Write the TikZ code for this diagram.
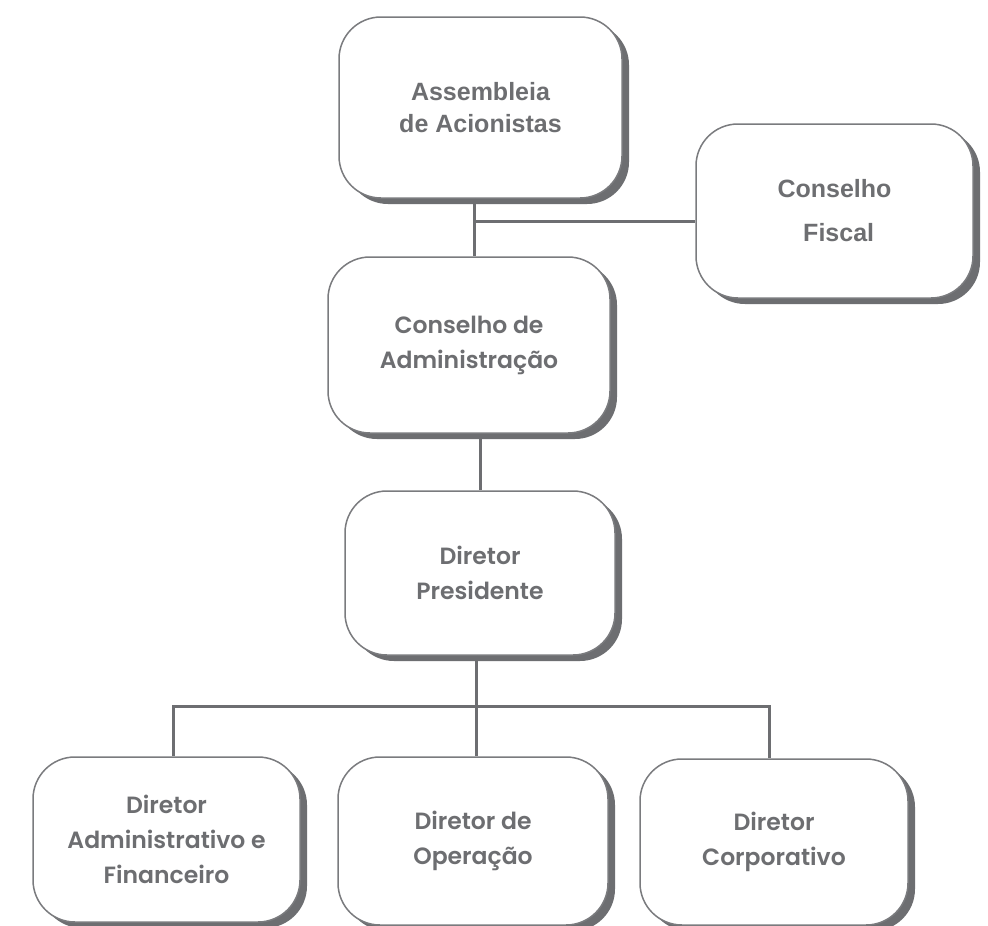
\documentclass[tikz,border=0pt]{standalone}
\usepackage{fontspec}
\setmainfont{Liberation Sans}
\newfontfamily\montfont{Poppins SemiBold}
\usetikzlibrary{shadows}
\definecolor{orggray}{HTML}{6D6E71}
\definecolor{edgegray}{HTML}{7A7B7E}
\tikzset{
  orgbox/.style={draw=edgegray,line width=1.5pt,fill=white,rounded corners=42pt,
    text=orggray,align=center,inner sep=0pt,
    drop shadow={shadow xshift=7pt,shadow yshift=-6pt,fill=orggray,opacity=1}},
  arialtxt/.style={font=\fontsize{25}{32}\selectfont\bfseries},
  monttxt/.style={font=\montfont\fontsize{23.5}{35}\selectfont},
  link/.style={draw=orggray,line width=3pt},
}
\begin{document}
\begin{tikzpicture}[x=1pt,y=-1pt]
  \useasboundingbox[fill=white] (0,0) rectangle (988,926);
  % boxes
  \node[orgbox,arialtxt,minimum width=283pt,minimum height=181pt] (asm) at (480.5,107.5) {Assembleia\\de Acionistas};
  \node[orgbox,arialtxt,minimum width=277pt,minimum height=174pt] (fis) at (834.5,211) {Conselho\\[12pt]\,\,Fiscal};
  \node[orgbox,monttxt,minimum width=282pt,minimum height=176pt] (ca) at (469,345) {Conselho de\\Administração};
  \node[orgbox,monttxt,minimum width=270pt,minimum height=164pt] (dp) at (480,573) {Diretor\\Presidente};
  \node[orgbox,monttxt,minimum width=267pt,minimum height=165pt] (daf) at (166.5,839.5) {Diretor\\Administrativo e\\Financeiro};
  \node[orgbox,monttxt,minimum width=270pt,minimum height=168pt] (do) at (473,841) {Diretor de\\Operação};
  \node[orgbox,monttxt,minimum width=268pt,minimum height=166pt] (dc) at (774,842) {Diretor\\Corporativo};
  % connectors
  \coordinate (jfis) at (474,221);
  \coordinate (bus) at (476,706);
  \coordinate (busl) at (173,706);
  \coordinate (busr) at (769,706);
  \draw[link] (asm.south -| jfis) -- (ca.north -| jfis);
  \draw[link] (jfis) -- (fis.west |- jfis);
  \draw[link] (ca.south -| dp.north) -- (dp.north);
  \draw[link] (dp.south -| bus) -- (do.north -| bus);
  \draw[link] (daf.north -| busl) -- (busl) -- (busr) -- (dc.north -| busr);
\end{tikzpicture}
\end{document}
